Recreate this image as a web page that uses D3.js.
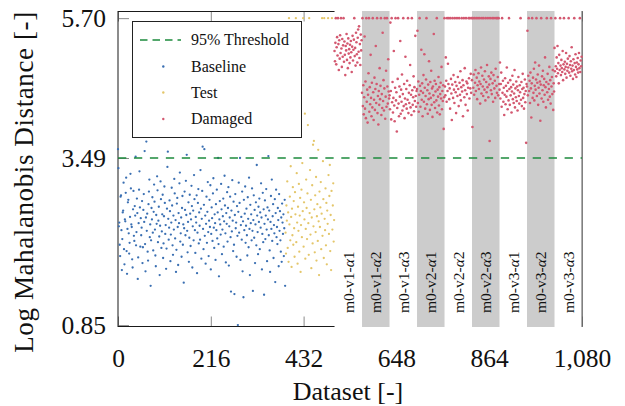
<!DOCTYPE html>
<html>
<head>
<meta charset="utf-8">
<script src="https://cdn.jsdelivr.net/npm/d3@7"></script>
<style>
  html, body { margin: 0; padding: 0; background: #fff; }
  svg { display: block; font-family: "Liberation Serif", "Times New Roman", serif; }
</style>
</head>
<body>
<svg id="chart" width="625" height="406"></svg>
<script>
// Log Mahalanobis distance per dataset, in acquisition order.
const baseline = [
  3.63,3.33,2.41,2.47,2.12,1.94,2.88,2.90,2.35,1.72,
  2.21,2.63,2.66,3.10,2.05,1.81,2.52,2.49,2.94,3.18,
  2.02,1.66,2.37,2.79,2.83,2.30,1.98,2.15,2.56,3.24,
  3.01,2.44,2.40,1.89,1.76,2.68,2.97,2.26,2.18,2.73,
  2.58,3.51,2.11,2.32,2.85,2.62,1.58,1.92,2.46,2.99,
  3.28,2.71,2.09,2.54,2.27,2.39,2.81,1.83,2.08,2.67,
  2.92,2.48,3.60,2.13,1.70,2.55,3.75,2.34,2.61,2.01,
  1.87,2.76,2.96,3.15,2.24,2.44,1.47,2.19,2.70,2.52,
  2.87,2.31,2.03,2.64,3.07,2.80,2.36,1.95,1.78,2.59,
  2.45,3.20,2.98,2.16,2.50,2.72,2.25,1.64,2.42,3.12,
  2.84,2.07,2.33,2.60,2.91,1.91,2.14,2.57,3.04,2.78,
  2.29,2.43,1.74,2.06,2.69,3.35,3.59,2.53,2.20,2.39,
  2.82,2.65,1.86,2.28,2.47,3.02,2.74,2.11,1.96,2.58,
  2.36,3.16,2.93,2.22,2.51,1.69,2.04,2.77,2.86,2.40,
  1.80,2.62,2.46,3.09,3.26,2.17,2.30,2.55,1.93,2.70,
  2.89,2.12,2.44,1.52,2.38,2.96,2.67,2.27,3.13,2.59,
  3.54,2.34,2.00,2.48,2.79,1.85,2.23,2.91,2.61,2.10,
  2.52,3.05,2.73,1.76,2.41,2.66,2.19,3.22,2.84,2.35,
  1.99,2.56,2.47,2.90,1.67,2.31,2.78,3.00,2.14,2.63,
  2.42,2.20,3.30,2.69,1.90,2.53,2.97,3.67,2.37,2.05,
  2.75,3.63,2.26,2.58,1.82,2.45,2.88,2.15,2.64,3.11,
  2.32,1.94,2.50,2.83,2.40,3.06,1.73,2.29,2.71,2.54,
  2.18,2.93,3.17,2.39,2.07,2.60,2.46,1.88,2.76,2.35,
  2.99,2.22,2.63,3.49,2.13,1.62,2.52,2.81,2.44,2.28,
  3.08,2.68,1.97,2.36,2.57,2.85,2.09,2.49,3.21,2.74,
  2.30,1.84,2.62,2.45,2.95,2.17,2.70,3.03,1.79,2.41,
  2.55,2.88,2.24,1.38,2.66,2.33,3.14,2.50,2.02,2.80,
  2.12,1.34,2.59,2.92,2.38,2.47,1.93,2.73,2.26,0.85,
  2.64,3.10,2.31,2.78,3.49,1.88,2.43,2.56,2.20,2.96,
  1.70,2.49,1.29,2.83,2.35,2.61,3.04,2.15,2.42,2.69,
  2.27,1.95,2.87,2.53,2.08,3.18,2.37,1.64,2.75,2.46,
  2.60,2.19,3.01,2.34,1.39,2.51,2.90,2.23,2.67,1.83,
  2.44,2.79,2.11,3.38,2.58,2.32,1.97,2.72,2.48,2.85,
  2.05,2.63,2.39,3.09,2.55,1.73,2.29,2.94,2.16,2.68,
  1.33,2.45,2.82,2.21,2.58,3.00,2.36,1.86,2.71,2.52,
  3.52,2.27,2.66,2.03,1.69,2.48,2.89,2.37,3.15,2.18,
  2.57,2.76,1.91,2.43,2.30,2.84,1.53,2.62,2.99,2.24,
  2.40,2.13,2.70,2.51,1.78,2.92,2.34,2.65,2.19,2.01,
  2.55,1.85,2.77,2.47,2.29,2.60,1.94,2.38,2.83,1.47
];

const test = [
  2.31,1.98,2.74,2.50,3.12,2.07,2.63,1.85,5.70,2.44,
  2.88,2.19,3.36,2.56,1.77,2.69,2.27,3.03,2.12,2.81,
  2.38,1.93,2.95,2.60,5.70,2.16,3.25,2.47,1.82,2.72,
  2.34,3.08,2.01,2.58,2.86,1.69,2.43,2.99,2.24,3.41,
  2.65,5.70,2.09,2.79,2.52,4.19,1.90,2.37,3.15,2.70,
  2.21,2.93,4.01,2.46,1.96,5.70,2.62,3.30,2.28,2.83,
  1.75,2.55,3.06,2.14,3.70,2.41,3.76,2.68,2.00,2.90,
  2.32,3.19,1.87,2.57,2.76,2.18,3.62,2.49,1.64,2.96,
  2.40,2.71,3.11,2.05,2.61,5.70,2.26,3.44,2.84,1.91,
  5.70,2.53,2.35,3.01,2.11,2.78,1.81,2.66,2.45,5.70,
  3.22,2.29,2.89,3.38,2.02,2.59,1.72,2.97,5.70,2.36,
  2.74,3.09,2.17,2.51
];

// Damaged states, 64 datasets per case, in the order of caseLabels.
const damaged = [
  5.18,5.02,5.31,5.70,4.97,5.24,5.40,5.11,5.70,5.29,4.88,5.35,5.06,5.43,5.15,5.70,
  5.22,4.93,5.37,5.09,5.27,5.70,5.01,5.33,5.12,4.80,5.26,5.19,5.45,5.04,5.30,4.91,
  5.38,5.14,5.21,4.99,5.28,5.08,5.34,5.16,4.85,5.25,5.42,5.03,5.20,5.36,5.70,5.10,
  5.23,4.95,5.47,5.32,5.13,5.00,5.39,5.52,5.17,5.57,5.07,5.29,4.96,5.44,5.19,5.35,

  4.52,5.70,4.31,4.64,4.18,4.45,5.41,4.27,4.70,4.12,5.70,4.38,4.57,4.05,4.49,4.83,
  5.70,4.22,4.61,4.34,5.12,4.44,4.15,4.68,4.29,5.70,4.53,4.09,4.41,4.76,4.25,4.58,
  5.26,4.36,4.66,5.70,4.20,4.47,4.02,4.55,4.33,4.91,4.42,4.63,5.70,4.17,4.50,4.28,
  5.47,4.39,4.72,4.24,4.59,5.70,4.11,4.46,4.87,4.30,5.70,4.62,4.35,5.05,4.54,4.43,

  4.48,4.26,5.63,4.55,4.10,5.70,4.37,4.69,4.21,4.44,5.18,4.32,4.07,4.60,5.70,4.40,
  4.53,3.91,4.28,4.74,5.70,4.35,4.15,4.62,4.46,5.34,4.19,4.57,4.38,4.81,4.24,4.50,
  5.70,4.31,4.66,4.12,4.43,5.09,4.34,4.58,4.27,4.71,4.41,5.70,4.20,4.52,4.36,4.64,
  4.96,4.29,4.49,4.17,5.70,4.56,4.33,4.45,4.78,4.23,4.61,4.39,5.42,4.47,4.30,4.55,

  4.58,5.50,4.36,4.70,4.22,4.49,5.70,4.63,4.30,4.55,5.20,4.41,4.67,4.15,4.52,4.80,
  4.38,5.13,4.60,4.27,4.47,4.73,5.70,4.34,4.56,4.19,4.65,4.42,5.02,4.51,4.25,4.69,
  4.44,4.87,4.33,4.59,4.14,4.62,4.48,5.45,4.37,4.71,4.28,4.54,4.66,4.40,5.70,4.21,
  4.57,4.46,4.77,4.32,4.61,4.18,4.50,4.68,4.43,4.93,4.26,4.55,4.39,4.64,3.95,4.45,

  5.70,4.62,4.48,5.08,4.71,4.38,5.70,4.55,4.98,4.66,5.70,4.42,4.59,4.27,5.70,4.74,
  4.51,4.09,4.65,5.70,4.44,4.80,4.57,4.36,5.70,4.69,4.53,4.20,4.63,5.70,4.47,4.77,
  4.58,4.31,5.70,4.68,4.49,4.86,4.40,4.61,5.70,4.54,4.72,4.15,4.64,5.70,4.45,4.91,
  4.56,4.33,5.70,4.70,4.50,4.67,4.24,4.60,5.70,4.75,4.43,5.70,4.59,4.82,4.52,5.70,

  4.72,3.98,5.70,4.60,4.81,4.49,5.70,4.68,4.88,4.55,5.70,4.76,4.42,4.64,5.70,4.83,
  4.58,4.70,5.70,4.35,4.66,4.92,4.51,5.70,4.79,4.62,4.47,5.70,4.73,4.57,4.86,4.40,
  5.70,4.69,4.53,4.96,4.61,5.70,4.45,4.78,4.65,3.76,5.70,4.74,4.56,4.84,4.50,5.70,
  4.67,4.38,4.80,5.70,4.59,4.71,4.44,4.90,5.70,4.63,4.52,5.70,4.77,4.48,5.70,4.66,

  4.57,5.00,4.43,4.66,4.84,4.30,5.70,4.52,4.71,4.38,4.60,4.17,4.49,4.75,4.34,4.63,
  4.46,4.92,4.55,4.26,4.68,4.40,5.70,4.58,4.33,4.72,4.48,4.61,4.21,4.54,4.79,4.42,
  4.65,4.36,4.51,4.88,4.29,4.59,4.45,4.70,4.39,4.62,4.24,4.56,4.77,4.47,4.35,4.64,
  4.53,5.70,4.41,4.69,4.31,4.58,4.82,4.44,4.60,4.27,4.50,4.73,4.37,4.55,3.73,4.66,

  4.62,5.50,4.48,4.79,5.70,4.55,4.71,4.36,4.84,4.59,4.13,4.67,5.70,4.44,4.76,4.52,
  4.90,4.40,4.63,5.00,4.57,4.73,5.70,4.47,4.68,4.81,4.33,4.60,4.95,4.51,4.70,4.08,
  4.65,5.70,4.43,4.78,4.56,4.87,4.38,4.64,4.74,4.49,5.08,4.61,4.29,4.69,5.70,4.53,
  4.82,4.41,4.66,4.58,4.93,4.46,4.72,4.35,5.70,4.62,4.77,4.50,4.88,4.25,4.67,4.54,

  5.23,4.86,5.70,4.94,4.78,5.08,4.90,5.26,4.83,4.99,4.67,5.12,4.88,5.70,4.95,4.80,
  5.04,4.91,4.85,5.18,4.72,4.97,5.70,4.89,5.01,4.82,4.93,5.15,4.76,4.98,4.87,5.06,
  4.92,5.70,4.84,5.10,4.96,4.79,5.02,4.90,5.24,4.86,4.95,4.74,5.05,4.88,5.70,4.99,
  4.81,5.13,4.93,4.77,5.00,4.89,5.07,4.84,4.97,5.15,4.91,5.70,4.85,5.03,4.94,5.09
];

const caseLabels = [
  "m0-v1-α1", "m0-v1-α2", "m0-v1-α3",
  "m0-v2-α1", "m0-v2-α2", "m0-v2-α3",
  "m0-v3-α1", "m0-v3-α2", "m0-v3-α3"
];

const xTicks = [0, 216, 432, 648, 864, 1080];
const yTicks = [0.85, 3.49, 5.70];
const threshold = 3.49;

const legendItems = ["95% Threshold", "Baseline", "Test", "Damaged"];

const colors = {
  baseline: "#3a6fb2",
  test: "#e4c66a",
  damaged: "#d35870",
  threshold: "#1c8a3c",
  band: "#cccccc"
};

const svg = d3.select("#chart");
const plot = { left: 118, right: 582, top: 11.5, bottom: 326.5 };

const x = d3.scaleLinear().domain([0, 1080]).range([plot.left, plot.right]);
const y = d3.scaleLinear().domain([0.828, 5.805]).range([plot.bottom, plot.top]);

const serif = '"Liberation Serif", "Times New Roman", serif';
const tickGray = "#8a8a8a";

// ---- axes (ticks point inward) ----
const gx = svg.append("g")
  .attr("transform", `translate(0,${plot.bottom})`)
  .call(d3.axisBottom(x).tickValues(xTicks).tickFormat(d3.format(","))
        .tickSizeInner(-10).tickSizeOuter(0).tickPadding(22));
gx.select(".domain").remove();
gx.attr("font-family", serif).attr("font-size", 25.5);
gx.selectAll(".tick line").attr("stroke", tickGray);
gx.selectAll(".tick text").attr("fill", "#111");

const gxTop = svg.append("g")
  .attr("transform", `translate(0,${plot.top})`)
  .call(d3.axisTop(x).tickValues(xTicks).tickFormat("").tickSizeInner(-10).tickSizeOuter(0));
gxTop.select(".domain").remove();
gxTop.selectAll(".tick line").attr("stroke", tickGray);

const gy = svg.append("g")
  .attr("transform", `translate(${plot.left},0)`)
  .call(d3.axisLeft(y).tickValues(yTicks).tickFormat(d3.format(".2f"))
        .tickSizeInner(-11).tickSizeOuter(0).tickPadding(12));
gy.select(".domain").remove();
gy.attr("font-family", serif).attr("font-size", 25.5);
gy.selectAll(".tick line").attr("stroke", tickGray);
gy.selectAll(".tick text").attr("fill", "#111");

// ---- frame ----
svg.append("rect")
  .attr("x", plot.left).attr("y", plot.top)
  .attr("width", plot.right - plot.left).attr("height", plot.bottom - plot.top)
  .attr("fill", "none").attr("stroke", "#1a1a1a").attr("stroke-width", 1);

// ---- damaged-case panel with alternating shaded bands ----
const nBase = baseline.length;
const nTest = test.length;
const dStart = nBase + nTest;
const caseSize = damaged.length / caseLabels.length;

svg.append("rect")
  .attr("x", x(dStart)).attr("y", plot.top - 1)
  .attr("width", x(dStart + damaged.length) - x(dStart))
  .attr("height", plot.bottom - plot.top + 2)
  .attr("fill", "#fff");

svg.append("g").selectAll("rect")
  .data(caseLabels.map((d, i) => i).filter(i => i % 2 === 1))
  .join("rect")
  .attr("x", i => x(dStart + i * caseSize))
  .attr("y", plot.top - 0.5)
  .attr("width", i => x(dStart + (i + 1) * caseSize) - x(dStart + i * caseSize))
  .attr("height", plot.bottom - plot.top + 1)
  .attr("fill", colors.band);

svg.append("line")
  .attr("x1", plot.right).attr("x2", plot.right)
  .attr("y1", plot.top - 0.5).attr("y2", plot.bottom + 0.5)
  .attr("stroke", "#7a7a7a").attr("stroke-width", 1.2);

// case labels, rotated, with italic alpha
const labelG = svg.append("g").attr("font-family", serif).attr("font-size", 15.5).attr("fill", "#111");
caseLabels.forEach((lab, i) => {
  const cx = (x(dStart + i * caseSize) + x(dStart + (i + 1) * caseSize)) / 2;
  const parts = lab.split("α");
  const t = labelG.append("text")
    .attr("transform", `translate(${cx + 5.5},313) rotate(-90)`)
    .attr("text-anchor", "start");
  t.append("tspan").text(parts[0]);
  t.append("tspan").attr("font-style", "italic").text("α");
  t.append("tspan").text(parts[1]);
});

// ---- points ----
const pts = svg.append("g");
pts.append("g").selectAll("circle").data(baseline).join("circle")
  .attr("cx", (d, i) => x(i)).attr("cy", d => y(d)).attr("r", 1.15)
  .attr("fill", colors.baseline);
pts.append("g").selectAll("circle").data(test).join("circle")
  .attr("cx", (d, i) => x(nBase + i)).attr("cy", d => y(d)).attr("r", 1.15)
  .attr("fill", colors.test);
pts.append("g").selectAll("circle").data(damaged).join("circle")
  .attr("cx", (d, i) => x(dStart + i)).attr("cy", d => y(d)).attr("r", 1.3)
  .attr("fill", colors.damaged);

// ---- threshold ----
svg.append("line")
  .attr("x1", plot.left).attr("x2", plot.right)
  .attr("y1", y(threshold)).attr("y2", y(threshold))
  .attr("stroke", colors.threshold).attr("stroke-width", 1.5)
  .attr("stroke-dasharray", "8.3 7.65");

// ---- axis titles ----
svg.append("text")
  .attr("x", 348).attr("y", 400)
  .attr("text-anchor", "middle")
  .attr("font-family", serif).attr("font-size", 26).attr("fill", "#111")
  .text("Dataset [-]");

svg.append("text")
  .attr("transform", "translate(33,182) rotate(-90)")
  .attr("text-anchor", "middle")
  .attr("font-family", serif).attr("font-size", 27).attr("letter-spacing", 0.6)
  .attr("fill", "#111")
  .text("Log Mahalanobis Distance [-]");

// ---- legend ----
const lg = svg.append("g").attr("font-family", serif).attr("font-size", 16);
lg.append("rect")
  .attr("x", 132.5).attr("y", 21.5).attr("width", 169).attr("height", 116)
  .attr("fill", "#fff").attr("stroke", "#222").attr("stroke-width", 1);
const rowY = [40, 66.5, 92.5, 119];
lg.append("line")
  .attr("x1", 140).attr("x2", 181).attr("y1", rowY[0]).attr("y2", rowY[0])
  .attr("stroke", colors.threshold).attr("stroke-width", 1.5)
  .attr("stroke-dasharray", "7.5 5");
[colors.baseline, colors.test, colors.damaged].forEach((c, i) => {
  lg.append("circle").attr("cx", 163.3).attr("cy", rowY[i + 1]).attr("r", 1.2).attr("fill", c);
});
legendItems.forEach((t, i) => {
  lg.append("text").attr("x", 191).attr("y", rowY[i]).attr("dy", "0.33em")
    .attr("fill", "#111").text(t);
});
</script>
</body>
</html>
